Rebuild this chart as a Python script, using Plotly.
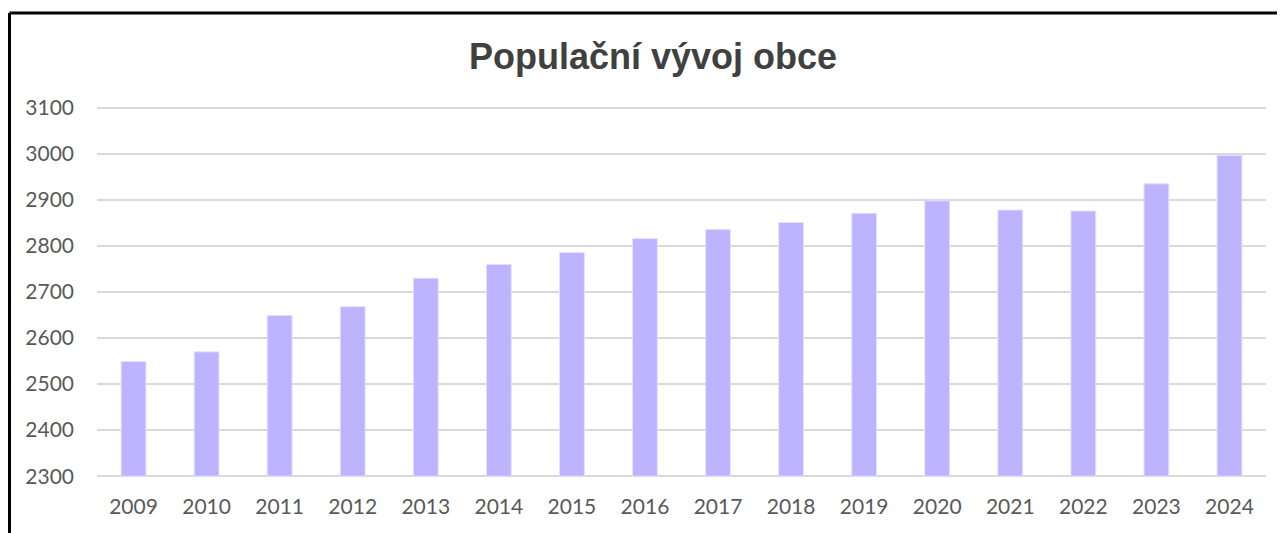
import plotly.graph_objects as go

years = ["2009", "2010", "2011", "2012", "2013", "2014", "2015", "2016",
         "2017", "2018", "2019", "2020", "2021", "2022", "2023", "2024"]
population = [2549, 2570, 2649, 2668, 2730, 2760, 2786, 2816,
              2836, 2851, 2871, 2898, 2878, 2876, 2935, 2997]
y_ticks = [2300, 2400, 2500, 2600, 2700, 2800, 2900, 3000, 3100]
axis_min = y_ticks[0]

OFF = 8  # default page body margin
W, H = 1285 - OFF, 533 - OFF
L, R, T, B = 97 - OFF, 19, 98, 55
pw, ph = W - L - R, H - T - B

fig = go.Figure(go.Bar(
    x=years, y=[p - axis_min for p in population], base=axis_min,
    customdata=population,
    hovertemplate="%{x}: %{customdata}<extra></extra>",
    marker=dict(color="#BDB3FF", line=dict(color="#E4E0FF", width=1)),
))

def px_x(p):
    return (p - OFF - L) / pw

def px_y(p):
    return (H - B - (p - OFF)) / ph

fig.update_layout(
    width=W, height=H,
    margin=dict(l=L, r=R, t=T, b=B),
    paper_bgcolor="white", plot_bgcolor="white",
    bargap=0.66,
    showlegend=False,
    title=dict(text="<b>Populační vývoj obce</b>", x=(653 - OFF) / W, xanchor="center",
               y=1 - 48 / H, yanchor="middle", yref="container",
               font=dict(family="Liberation Sans, Arial, sans-serif", size=36, color="#404040")),
    font=dict(family="Lato, Open Sans, sans-serif", size=21, color="#595959"),
    xaxis=dict(showgrid=False, showline=False, zeroline=False, ticks="",
               ticklabelstandoff=14, tickfont=dict(size=21, color="#595959")),
    yaxis=dict(range=[2296, 3104], tickvals=y_ticks, showgrid=True,
               gridcolor="#D9D9D9", gridwidth=1.5, zeroline=False, showline=False,
               ticks="", ticklabelstandoff=22, tickfont=dict(size=21, color="#595959")),
    shapes=[
        dict(type="line", xref="paper", yref="paper", x0=px_x(9.5), x1=px_x(1295),
             y0=px_y(13), y1=px_y(13), line=dict(color="black", width=3)),
        dict(type="line", xref="paper", yref="paper", x0=px_x(9.5), x1=px_x(9.5),
             y0=px_y(13), y1=px_y(545), line=dict(color="black", width=3)),
    ],
)

fig.write_html("out.html")
